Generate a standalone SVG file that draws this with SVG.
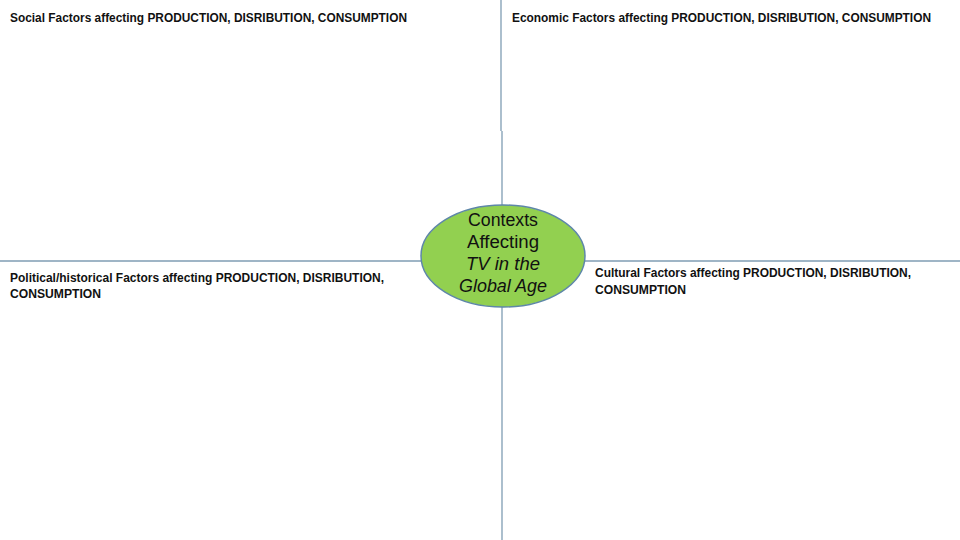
<svg xmlns="http://www.w3.org/2000/svg" width="960" height="540" viewBox="0 0 960 540">
<style>
.lbl{font-family:"Liberation Sans",Arial,sans-serif;font-size:12px;font-weight:bold;fill:#111}
.ctr{font-family:"Liberation Sans",Arial,sans-serif;font-size:18px;fill:#111;text-anchor:middle}
.ln{stroke:#7f9db3;stroke-width:1.3;fill:none}
</style>
<rect width="960" height="540" fill="#fff"/>
<g id="connectors">
<line class="ln" x1="501" y1="0" x2="501" y2="131"/>
<line class="ln" x1="502" y1="131" x2="502" y2="540"/>
<line class="ln" x1="0" y1="261" x2="960" y2="261"/>
</g>
<g id="social"><text class="lbl" x="10" y="22" textLength="397" lengthAdjust="spacingAndGlyphs">Social Factors affecting PRODUCTION, DISRIBUTION, CONSUMPTION</text></g>
<g id="economic"><text class="lbl" x="512" y="22" textLength="419" lengthAdjust="spacingAndGlyphs">Economic Factors affecting PRODUCTION, DISRIBUTION, CONSUMPTION</text></g>
<g id="political"><text class="lbl" x="10" y="282" textLength="374" lengthAdjust="spacingAndGlyphs">Political/historical Factors affecting PRODUCTION, DISRIBUTION,</text><text class="lbl" x="10" y="298" textLength="91" lengthAdjust="spacingAndGlyphs">CONSUMPTION</text></g>
<g id="cultural"><text class="lbl" x="595" y="277" textLength="316" lengthAdjust="spacingAndGlyphs">Cultural Factors affecting PRODUCTION, DISRIBUTION,</text><text class="lbl" x="595" y="294" textLength="91" lengthAdjust="spacingAndGlyphs">CONSUMPTION</text></g>
<g id="center">
<ellipse cx="503" cy="256" rx="82" ry="51" fill="#92d050" stroke="#5e87a8" stroke-width="1.5"/>
<text class="ctr" x="503" y="226" textLength="70" lengthAdjust="spacingAndGlyphs">Contexts</text>
<text class="ctr" x="503" y="248" textLength="72" lengthAdjust="spacingAndGlyphs">Affecting</text>
<text class="ctr" x="503" y="270" font-style="italic" textLength="74" lengthAdjust="spacingAndGlyphs">TV in the</text>
<text class="ctr" x="503" y="292" font-style="italic" textLength="88" lengthAdjust="spacingAndGlyphs">Global Age</text>
</g>
</svg>
